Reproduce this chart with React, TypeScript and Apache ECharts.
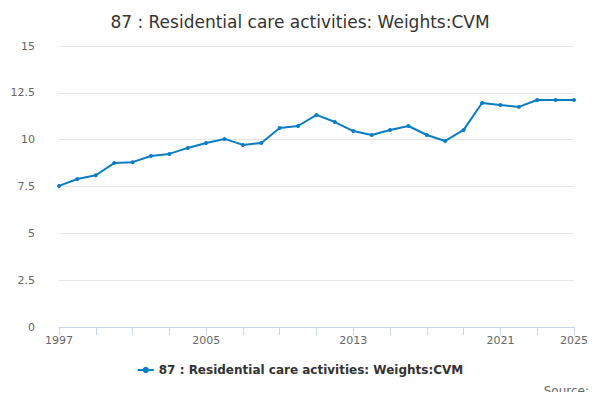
import { useEffect, useRef } from "react";
import * as echarts from "echarts";

const years = [
  "1997", "1998", "1999", "2000", "2001", "2002", "2003", "2004", "2005", "2006",
  "2007", "2008", "2009", "2010", "2011", "2012", "2013", "2014", "2015", "2016",
  "2017", "2018", "2019", "2020", "2021", "2022", "2023", "2024", "2025",
];
const weights = [
  7.53, 7.9, 8.1, 8.75, 8.8, 9.13, 9.24, 9.56, 9.82, 10.04,
  9.72, 9.82, 10.62, 10.73, 11.32, 10.94, 10.46, 10.25, 10.52, 10.73,
  10.25, 9.93, 10.52, 11.96, 11.85, 11.75, 12.12, 12.12, 12.12,
];
const seriesName = "87 : Residential care activities: Weights:CVM";

export default function App() {
  const ref = useRef<HTMLDivElement>(null);

  useEffect(() => {
    const el = ref.current;
    if (!el) return;
    const chart = echarts.init(el, undefined, { renderer: "svg" });
    const last = years.length - 1;
    chart.setOption({
      animation: false,
      textStyle: { fontFamily: "DejaVu Sans" },
      title: {
        text: "87 : Residential care activities: Weights:CVM",
        left: "center",
        top: 8,
        textStyle: { fontSize: 17, fontWeight: "normal", color: "#333" },
      },
      graphic: [
        {
          type: "text",
          right: 11,
          bottom: 3,
          style: { text: "Source:", fontSize: 12, fill: "#666", fontFamily: "DejaVu Sans" },
        },
      ],
      legend: {
        bottom: 19,
        left: "center",
        itemWidth: 16,
        itemHeight: 8,
        textStyle: { fontSize: 12, fontWeight: "bold", color: "#333" },
        data: [seriesName],
      },
      grid: { left: 59, right: 26, top: 46, bottom: 73 },
      xAxis: {
        type: "category",
        data: years,
        boundaryGap: false,
        axisLine: { lineStyle: { color: "#ccd6eb" } },
        axisTick: {
          alignWithLabel: true,
          length: 8,
          lineStyle: { color: "#ccd6eb" },
          interval: (i: number) => i % 2 === 0 || i === last,
        },
        axisLabel: {
          color: "#666",
          fontSize: 11,
          interval: (i: number) => i % 8 === 0 || i === last,
        },
      },
      yAxis: {
        type: "value",
        min: 0,
        max: 15,
        interval: 2.5,
        axisLabel: { color: "#666", fontSize: 11, margin: 24 },
        splitLine: { lineStyle: { color: "#e6e6e6" } },
      },
      series: [
        {
          name: seriesName,
          type: "line",
          data: weights,
          color: "#0a7dc2",
          symbol: "circle",
          symbolSize: 4,
          lineStyle: { width: 2 },
        },
      ],
    });
    return () => chart.dispose();
  }, []);

  return <div ref={ref} style={{ width: 600, height: 400, margin: -8 }} />;
}
